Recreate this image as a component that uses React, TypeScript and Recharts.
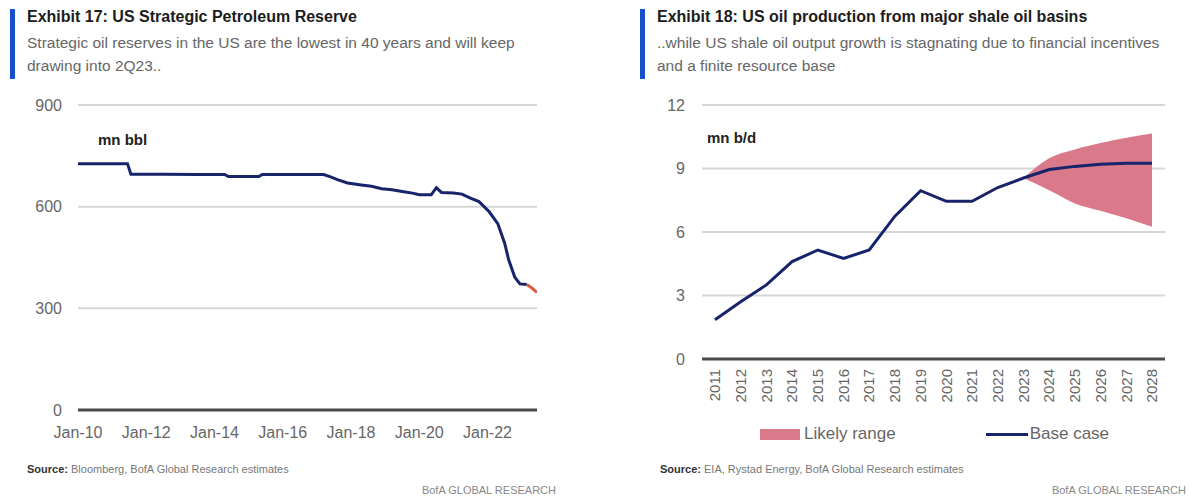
import React from "react";
import {
  LineChart,
  Line,
  XAxis,
  YAxis,
  CartesianGrid,
  ComposedChart,
  Area,
  Legend,
} from "recharts";

// ---------- Exhibit 17 data ----------
const sprX = [
  2010.0, 2011.0, 2011.45, 2011.55, 2012.5, 2013.5, 2014.3, 2014.4, 2015.3, 2015.4,
  2016.5, 2017.2, 2017.4, 2017.6, 2017.9, 2018.1, 2018.3, 2018.6, 2018.9, 2019.2,
  2019.5, 2019.8, 2020.0, 2020.35, 2020.5, 2020.65, 2021.0, 2021.25, 2021.5, 2021.75,
  2022.05, 2022.3, 2022.5, 2022.62, 2022.8, 2022.95, 2023.15,
];
const sprValues = [
  727, 727, 727, 696, 696, 695, 695, 689, 689, 695,
  695, 695, 688, 680, 670, 667, 664, 660, 653, 650,
  645, 640, 635, 635, 656, 642, 640, 637, 625, 615,
  585, 550, 493, 443, 392, 372, 370,
];
const estX = [2023.15, 2023.3, 2023.45];
const estValues = [370, 360, 347];
const sprTickValues = [2010, 2012, 2014, 2016, 2018, 2020, 2022];
const sprTickLabels = ["Jan-10", "Jan-12", "Jan-14", "Jan-16", "Jan-18", "Jan-20", "Jan-22"];
const sprYTicks = [0, 300, 600, 900];

// ---------- Exhibit 18 data ----------
const shaleYears = [
  "2011", "2012", "2013", "2014", "2015", "2016", "2017", "2018", "2019",
  "2020", "2021", "2022", "2023", "2024", "2025", "2026", "2027", "2028",
];
const baseCase = [1.85, 2.7, 3.5, 4.6, 5.15, 4.75, 5.15, 6.75, 7.95, 7.45, 7.45, 8.1, 8.55, 8.95, 9.1, 9.2, 9.25, 9.25];
const rangeLow = [null, null, null, null, null, null, null, null, null, null, null, null, 8.55, 7.97, 7.35, 7.0, 6.65, 6.25];
const rangeHigh = [null, null, null, null, null, null, null, null, null, null, null, null, 8.55, 9.48, 9.9, 10.2, 10.45, 10.65];
const shaleYTicks = [0, 3, 6, 9, 12];

const sprData = (() => {
  const rows: any[] = sprX.map((x, i) => ({ x, spr: sprValues[i], est: null as number | null }));
  estX.forEach((x, i) => {
    const found = rows.find((r) => r.x === x);
    if (found) found.est = estValues[i];
    else rows.push({ x, spr: null, est: estValues[i] });
  });
  return rows.sort((a, b) => a.x - b.x);
})();

const shaleData = shaleYears.map((year, i) => ({
  year,
  base: baseCase[i],
  range: rangeLow[i] == null || rangeHigh[i] == null ? null : [rangeLow[i], rangeHigh[i]],
}));

const FONT = "'Liberation Sans Narrow', 'Liberation Sans', Arial, sans-serif";
const NAVY = "#17246a";
const PINK = "#d9798a";
const RED = "#dc5a3e";
const BLUE_BAR = "#1450c8";
const GRID = "#d6d6d6";
const AXIS_TEXT = "#666";

const Header = ({ left, title, lines }: { left: number; title: string; lines: string[] }) => (
  <div style={{ position: "absolute", left, top: 0 }}>
    <div style={{ position: "absolute", left: 0, top: 9, width: 5, height: 70, background: BLUE_BAR }} />
    <div
      style={{
        position: "absolute",
        left: 17,
        top: 8,
        whiteSpace: "nowrap",
        fontFamily: FONT,
        fontWeight: 700,
        fontSize: 16,
        color: "#1c1c1c",
      }}
    >
      {title}
    </div>
    {lines.map((l, i) => (
      <div
        key={i}
        style={{
          position: "absolute",
          left: 17,
          top: 34 + i * 23,
          whiteSpace: "nowrap",
          fontFamily: FONT,
          fontSize: 15.5,
          color: "#666",
        }}
      >
        {l}
      </div>
    ))}
  </div>
);

const Footer = ({ left, source, brandRight }: { left: number; source: string; brandRight: number }) => (
  <>
    <div
      style={{
        position: "absolute",
        left,
        top: 463,
        whiteSpace: "nowrap",
        fontFamily: FONT,
        fontSize: 11,
        color: "#777",
      }}
    >
      <span style={{ fontWeight: 700, color: "#333" }}>Source:</span> {source}
    </div>
    <div
      style={{
        position: "absolute",
        left: brandRight - 140,
        width: 140,
        textAlign: "right",
        top: 484,
        whiteSpace: "nowrap",
        fontFamily: FONT,
        fontSize: 11,
        color: "#888",
      }}
    >
      BofA GLOBAL RESEARCH
    </div>
  </>
);

const RotatedTick = (props: any) => {
  const { x, y, payload } = props;
  return (
    <g transform={`translate(${x},${y + 10})`}>
      <text
        transform="rotate(-90)"
        x={0}
        y={0}
        dy="0.35em"
        textAnchor="end"
        fill={AXIS_TEXT}
        fontSize={15}
        fontFamily={FONT}
      >
        {payload.value}
      </text>
    </g>
  );
};

const ShaleLegend = (props: any) => {
  const payload = props.payload || [];
  const area = payload.find((p: any) => p.dataKey === "range");
  const line = payload.find((p: any) => p.dataKey === "base");
  return (
    <div style={{ display: "flex", alignItems: "center", fontFamily: FONT, fontSize: 17, color: "#666" }}>
      {area && (
        <div style={{ display: "flex", alignItems: "center" }}>
          <div style={{ width: 40, height: 11, background: PINK, marginRight: 4 }} />
          <span>{area.value}</span>
        </div>
      )}
      {line && (
        <div style={{ display: "flex", alignItems: "center", marginLeft: 90 }}>
          <div style={{ width: 42, height: 3, background: NAVY, marginRight: 2 }} />
          <span>{line.value}</span>
        </div>
      )}
    </div>
  );
};

export default function App() {
  return (
    <div
      style={{
        position: "absolute",
        left: 0,
        top: 0,
        width: 1190,
        height: 501,
        background: "#fff",
        overflow: "hidden",
      }}
    >
      <Header
        left={10}
        title="Exhibit 17: US Strategic Petroleum Reserve"
        lines={[
          "Strategic oil reserves in the US are the lowest in 40 years and will keep",
          "drawing into 2Q23..",
        ]}
      />
      <Header
        left={640}
        title="Exhibit 18: US oil production from major shale oil basins"
        lines={[
          "..while US shale oil output growth is stagnating due to financial incentives",
          "and a finite resource base",
        ]}
      />

      {/* Left chart */}
      <div style={{ position: "absolute", left: 0, top: 0 }}>
        <LineChart
          width={560}
          height={470}
          data={sprData}
          margin={{ top: 105, right: 23, bottom: 30, left: 18 }}
        >
          <CartesianGrid vertical={false} stroke={GRID} strokeWidth={2} />
          <XAxis
            dataKey="x"
            type="number"
            domain={[2010, 2023.45]}
            ticks={sprTickValues}
            tickFormatter={(v: number) => sprTickLabels[sprTickValues.indexOf(v)] ?? ""}
            allowDataOverflow
            height={30}
            tickLine={false}
            tickSize={0}
            tickMargin={17}
            axisLine={{ stroke: "#4a4a4a", strokeWidth: 3 }}
            tick={{ fill: AXIS_TEXT, fontSize: 16, fontFamily: FONT }}
          />
          <YAxis
            type="number"
            domain={[0, 900]}
            ticks={sprYTicks}
            width={60}
            axisLine={false}
            tickLine={false}
            tickSize={0}
            tickMargin={16}
            tick={{ fill: AXIS_TEXT, fontSize: 16, fontFamily: FONT }}
          />
          <Line
            dataKey="spr"
            type="linear"
            stroke={NAVY}
            strokeWidth={3}
            dot={false}
            isAnimationActive={false}
            connectNulls={false}
          />
          <Line
            dataKey="est"
            type="linear"
            stroke={RED}
            strokeWidth={3}
            dot={false}
            isAnimationActive={false}
            connectNulls={false}
          />
        </LineChart>
      </div>
      <div
        style={{
          position: "absolute",
          left: 98,
          top: 131,
          fontFamily: FONT,
          fontWeight: 700,
          fontSize: 15,
          color: "#222",
        }}
      >
        mn bbl
      </div>

      {/* Right chart */}
      <div style={{ position: "absolute", left: 600, top: 0 }}>
        <ComposedChart
          width={590}
          height={470}
          data={shaleData}
          margin={{ top: 105, right: 25, bottom: 31, left: 22 }}
        >
          <CartesianGrid vertical={false} stroke={GRID} strokeWidth={2} />
          <XAxis
            dataKey="year"
            type="category"
            interval={0}
            padding={{ left: 13, right: 13 }}
            height={60}
            tickLine={false}
            tickSize={0}
            tickMargin={0}
            axisLine={{ stroke: "#4a4a4a", strokeWidth: 3 }}
            tick={<RotatedTick />}
          />
          <YAxis
            type="number"
            domain={[0, 12]}
            ticks={shaleYTicks}
            width={80}
            axisLine={false}
            tickLine={false}
            tickSize={0}
            tickMargin={17}
            tick={{ fill: AXIS_TEXT, fontSize: 16, fontFamily: FONT }}
          />
          <Area
            dataKey="range"
            name="Likely range"
            type="monotone"
            stroke="none"
            fill={PINK}
            fillOpacity={1}
            isAnimationActive={false}
            connectNulls={false}
          />
          <Line
            dataKey="base"
            name="Base case"
            type="linear"
            stroke={NAVY}
            strokeWidth={3}
            dot={false}
            isAnimationActive={false}
          />
          <Legend
            content={<ShaleLegend />}
            wrapperStyle={{ position: "absolute", left: 160, top: 424, width: "auto", height: 20 }}
          />
        </ComposedChart>
      </div>
      <div
        style={{
          position: "absolute",
          left: 707,
          top: 129,
          fontFamily: FONT,
          fontWeight: 700,
          fontSize: 15,
          color: "#222",
        }}
      >
        mn b/d
      </div>

      <Footer left={27} source="Bloomberg, BofA Global Research estimates" brandRight={556} />
      <Footer left={660} source="EIA, Rystad Energy, BofA Global Research estimates" brandRight={1186} />
    </div>
  );
}
